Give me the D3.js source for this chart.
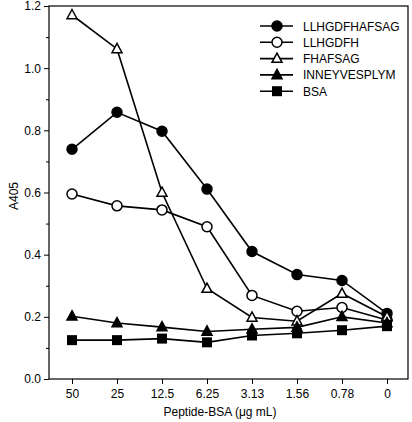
<!DOCTYPE html>
<html><head><meta charset="utf-8">
<script src="https://cdn.jsdelivr.net/npm/d3@7"></script>
<style>body{margin:0;background:#fff}svg{display:block}text{font-family:"Liberation Sans",Arial,sans-serif;fill:#000}</style>
</head><body><svg id="c" width="412" height="422"></svg>
<script>
const categories = ["50","25","12.5","6.25","3.13","1.56","0.78","0"];
const seriesNames = ["LLHGDFHAFSAG","LLHGDFH","FHAFSAG","INNEYVESPLYM","BSA"];
const LLHGDFHAFSAG = [0.739,0.858,0.797,0.611,0.41,0.336,0.317,0.211];
const LLHGDFH = [0.595,0.557,0.544,0.49,0.269,0.218,0.23,0.19];
const FHAFSAG = [1.171,1.062,0.6,0.291,0.198,0.186,0.275,0.2];
const INNEYVESPLYM = [0.202,0.18,0.167,0.153,0.16,0.166,0.2,0.18];
const BSA = [0.125,0.125,0.13,0.118,0.14,0.147,0.157,0.17];
const yTicks = [0,0.2,0.4,0.6,0.8,1.0,1.2];
const markers = ["circleFilled","circleOpen","triOpen","triFilled","square"];

const series = [LLHGDFHAFSAG,LLHGDFH,FHAFSAG,INNEYVESPLYM,BSA];
const svg = d3.select("#c");
const L=49,R=408,T=6,B=379;
const x = d3.scalePoint().domain(categories).range([72,387]);
const y = d3.scaleLinear().domain([0,1.2]).range([B,T]);

svg.append("rect").attr("x",L).attr("y",T).attr("width",R-L).attr("height",B-T)
  .attr("fill","none").attr("stroke","#000").attr("stroke-width",1.2);

// y axis
const ya = svg.append("g").attr("transform",`translate(${L},0)`)
  .call(d3.axisLeft(y).tickValues(yTicks).tickFormat(d3.format(".1f")).tickSize(5).tickPadding(3));
ya.select(".domain").remove();
ya.selectAll("text").attr("font-size",12).style("font-family","Liberation Sans, Arial, sans-serif");
svg.append("g").attr("transform",`translate(${L},0)`)
  .call(d3.axisLeft(y).tickValues(d3.range(0.1,1.2,0.2)).tickFormat("").tickSize(3))
  .select(".domain").remove();

// x axis
const xa = svg.append("g").attr("transform",`translate(0,${B})`)
  .call(d3.axisBottom(x).tickSize(5).tickPadding(5));
xa.select(".domain").remove();
xa.selectAll("text").attr("font-size",12).style("font-family","Liberation Sans, Arial, sans-serif");

svg.append("text").attr("x",220).attr("y",416).attr("text-anchor","middle").attr("font-size",12).text("Peptide-BSA (μg mL)");
svg.append("text").attr("transform","translate(18,196) rotate(-90)").attr("text-anchor","middle").attr("font-size",12).text("A405");

function drawMarker(g,type,cx,cy){
  if(type==="circleFilled"||type==="circleOpen"){
    g.append("circle").attr("cx",cx).attr("cy",cy).attr("r",5)
     .attr("fill",type==="circleFilled"?"#000":"#fff").attr("stroke","#000").attr("stroke-width",1.5);
  } else if(type==="triOpen"||type==="triFilled"){
    const s=5;
    g.append("path").attr("d",`M${cx},${cy-s*1.1}L${cx+s},${cy+s*0.75}L${cx-s},${cy+s*0.75}Z`)
     .attr("fill",type==="triFilled"?"#000":"#fff").attr("stroke","#000").attr("stroke-width",1.5);
  } else {
    g.append("rect").attr("x",cx-5).attr("y",cy-5).attr("width",10).attr("height",10).attr("fill","#000");
  }
}

const line = d3.line().x((d,i)=>x(categories[i])).y(d=>y(d));
series.forEach((s,k)=>{
  svg.append("path").datum(s).attr("d",line).attr("fill","none").attr("stroke","#000").attr("stroke-width",1.6);
});
series.forEach((s,k)=>{
  const g=svg.append("g");
  s.forEach((v,i)=>drawMarker(g,markers[k],x(categories[i]),y(v)));
});

// legend
const lg = svg.append("g");
seriesNames.forEach((n,k)=>{
  const ly = 26 + k*16.3;
  lg.append("line").attr("x1",260).attr("x2",293).attr("y1",ly).attr("y2",ly).attr("stroke","#000").attr("stroke-width",1.6);
  drawMarker(lg,markers[k],277,ly);
  lg.append("text").attr("x",303).attr("y",ly+4.5).attr("font-size",12).text(n);
});
</script></body></html>
